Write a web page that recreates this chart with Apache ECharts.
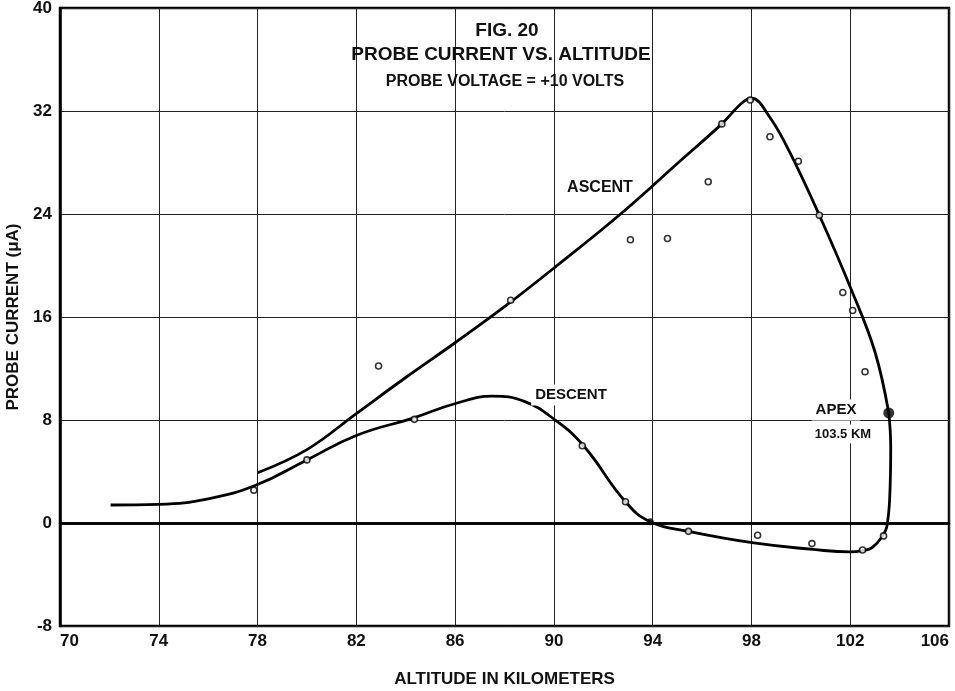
<!DOCTYPE html>
<html>
<head>
<meta charset="utf-8">
<script src="https://cdn.jsdelivr.net/npm/echarts@6/dist/echarts.min.js"></script>
<style>
  html, body { margin: 0; padding: 0; background: #fff; }
  #chart { width: 955px; height: 691px; }
</style>
</head>
<body>
<div id="chart"></div>
<script>
// axis ticks
var xTicks = [70, 74, 78, 82, 86, 90, 94, 98, 102, 106];
var yTicks = [-8, 0, 8, 16, 24, 32, 40];

// ascent curve (altitude km, current uA)
var ascentCurve = [
  [78.0, 3.9], [80.0, 5.7], [82.0, 8.5], [84.0, 11.3], [86.0, 14.0],
  [88.0, 16.8], [90.0, 19.8], [92.7, 24.0], [95.1, 28.1], [96.8, 31.0],
  [97.6, 32.6], [98.0, 33.0], [98.75, 31.5], [99.55, 28.8], [100.75, 23.9],
  [102.05, 18.1], [103.0, 13.3], [103.56, 8.55]
];

// descent curve, from the apex back down
var descentCurve = [
  [103.56, 8.55], [103.64, 5.9], [103.6, 2.0], [103.48, -0.3], [103.33, -0.95],
  [102.9, -1.9], [102.5, -2.15], [102.0, -2.25], [100.5, -2.05], [98.1, -1.55],
  [95.45, -0.65], [93.9, 0.1], [92.9, 1.65], [91.2, 6.0], [90.05, 8.0],
  [88.8, 9.45], [87.5, 9.85], [86.05, 9.3], [84.3, 8.15], [82.0, 6.8],
  [80.0, 4.9], [77.95, 2.95], [76.05, 1.9], [74.0, 1.45], [72.05, 1.4]
];

// measured points (open circles)
var measured = [
  [77.85, 2.55], [80.0, 4.9], [82.9, 12.2], [84.35, 8.05], [88.25, 17.3],
  [91.15, 6.0], [92.9, 1.65], [93.1, 22.0], [94.6, 22.1], [95.45, -0.65],
  [96.25, 26.5], [96.8, 31.0], [97.95, 32.85], [98.25, -0.95], [98.75, 30.0],
  [99.9, 28.1], [100.45, -1.6], [100.75, 23.9], [101.7, 17.9], [102.1, 16.5],
  [102.5, -2.1], [102.6, 11.75], [103.35, -1.0]
];
var zeroCross = [[93.9, 0.1]];
var apex = [[103.56, 8.55]];

var font = 'Liberation Sans';
var chart = echarts.init(document.getElementById('chart'), null, {renderer: 'canvas'});

function label(text, x, y, size, boxed) {
  var style = {
    text: text, x: x, y: y, align: 'center', verticalAlign: 'middle',
    font: 'bold ' + size + 'px "Liberation Sans"', fill: '#111'
  };
  if (boxed) {
    style.backgroundColor = '#fff';
    style.padding = [3, 4];
  }
  return {type: 'text', z: 10, style: style};
}

var option = {
  backgroundColor: '#fff',
  animation: false,
  grid: {
    left: 60, right: 6, top: 8, bottom: 65,
    outerBoundsMode: 'none',
    containLabel: false,
    show: true, borderColor: '#000', borderWidth: 2.5
  },
  xAxis: {
    type: 'value',
    min: xTicks[0], max: xTicks[xTicks.length - 1], interval: 4,
    name: 'ALTITUDE IN KILOMETERS',
    nameLocation: 'middle', nameGap: 45,
    nameTextStyle: {fontFamily: font, fontWeight: 'bold', fontSize: 17, color: '#111'},
    axisLine: {lineStyle: {color: '#000', width: 2.5}},
    axisTick: {show: false},
    axisLabel: {
      fontFamily: font, fontWeight: 'bold', fontSize: 17, color: '#111', margin: 7,
      alignMinLabel: 'left', alignMaxLabel: 'right'
    },
    splitLine: {lineStyle: {color: '#222', width: 1}}
  },
  yAxis: {
    type: 'value',
    min: yTicks[0], max: yTicks[yTicks.length - 1], interval: 8,
    name: 'PROBE CURRENT (\u03BCA)',
    nameLocation: 'middle', nameGap: 38,
    nameTextStyle: {fontFamily: font, fontWeight: 'bold', fontSize: 17, color: '#111'},
    axisLine: {lineStyle: {color: '#000', width: 2.5}},
    axisTick: {show: false},
    axisLabel: {fontFamily: font, fontWeight: 'bold', fontSize: 17, color: '#111', margin: 8},
    splitLine: {lineStyle: {color: '#222', width: 1}}
  },
  graphic: [
    label('FIG. 20', 507, 31, 19),
    label('PROBE CURRENT VS. ALTITUDE', 501, 55, 19),
    label('PROBE VOLTAGE = +10 VOLTS', 505, 82, 16),
    label('ASCENT', 600, 188, 16),
    label('DESCENT', 571, 395, 15, true),
    label('APEX', 836, 410, 15, true),
    label('103.5 KM', 843, 434, 13, true)
  ],
  series: [
    {
      name: 'Ascent', type: 'line', data: ascentCurve,
      smooth: 0.4, showSymbol: false, z: 3,
      lineStyle: {color: '#000', width: 2.8},
      markLine: {
        silent: true, symbol: 'none', label: {show: false},
        lineStyle: {color: '#000', width: 2.5, type: 'solid'},
        data: [{yAxis: 0}]
      }
    },
    {
      name: 'Descent', type: 'line', data: descentCurve,
      smooth: 0.45, showSymbol: false, z: 3,
      lineStyle: {color: '#000', width: 2.8}
    },
    {
      name: 'Measured', type: 'scatter', data: measured, z: 4,
      symbol: 'circle', symbolSize: 6,
      itemStyle: {color: '#fff', borderColor: '#000', borderWidth: 1.6}
    },
    {
      name: 'Zero', type: 'scatter', data: zeroCross, z: 4,
      symbol: 'circle', symbolSize: 7,
      itemStyle: {color: '#000'}
    },
    {
      name: 'Apex', type: 'scatter', data: apex, z: 5,
      symbol: 'circle', symbolSize: 11,
      itemStyle: {color: '#000'}
    }
  ]
};
chart.setOption(option);
</script>
</body>
</html>
